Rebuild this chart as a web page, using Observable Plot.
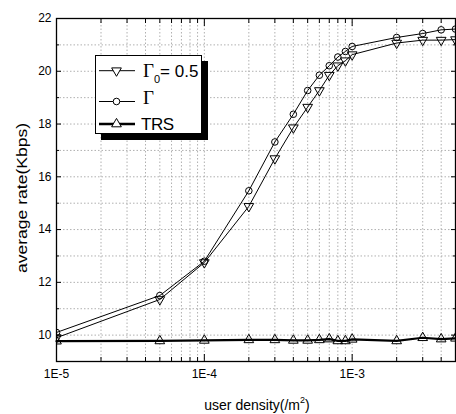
<!DOCTYPE html>
<html><head><meta charset="utf-8">
<script src="https://cdn.jsdelivr.net/npm/d3@7"></script>
<script src="https://cdn.jsdelivr.net/npm/@observablehq/plot@0.6"></script>
<style>
body{margin:0;background:#fff;}
#wrap{position:relative;width:456px;height:414px;font-family:"Liberation Sans",Arial,sans-serif;}
#wrap svg{position:absolute;left:0;top:0;}
</style></head><body><div id="wrap"></div>
<script>
// ---- data ----
const density = [1e-5,5e-5,1e-4,2e-4,3e-4,4e-4,5e-4,6e-4,7e-4,8e-4,9e-4,1e-3,2e-3,3e-3,4e-3,5e-3];
const gamma05 = [9.9,11.35,12.75,14.88,16.69,17.86,18.64,19.27,19.85,20.21,20.40,20.63,21.07,21.18,21.18,21.2];
const gamma   = [10.1,11.5,12.8,15.47,17.32,18.37,19.27,19.85,20.21,20.54,20.75,20.94,21.28,21.43,21.57,21.6];
const trs     = [9.77,9.78,9.8,9.82,9.82,9.8,9.8,9.82,9.85,9.78,9.78,9.84,9.78,9.9,9.85,9.88];
const seriesNames = ["Γ0= 0.5","Γ","TRS"];
const xMajorTicks = [1e-5,1e-4,1e-3];
const xTickLabels = ["1E-5","1E-4","1E-3"];
const xMinorTicks = [2e-5,3e-5,4e-5,5e-5,6e-5,7e-5,8e-5,9e-5,2e-4,3e-4,4e-4,5e-4,6e-4,7e-4,8e-4,9e-4,2e-3,3e-3,4e-3];
const yMajorTicks = [10,12,14,16,18,20,22];
const yMinorTicks = [11,13,15,17,19,21];
const xLabel = "user density(/m";
const yLabel = "average rate(Kbps)";

const rows = [];
density.forEach((d,i)=>{
  rows.push({x:d,y:gamma05[i],s:seriesNames[0]});
  rows.push({x:d,y:gamma[i],s:seriesNames[1]});
  rows.push({x:d,y:trs[i],s:seriesNames[2]});
});
const bySeries = n => rows.filter(r=>r.s===n);

const triDown = {draw(ctx,size){const r=Math.sqrt(size/(3*Math.sqrt(3)/4)); const h=r*0.5; ctx.moveTo(0,r); ctx.lineTo(r*0.866,-h); ctx.lineTo(-r*0.866,-h); ctx.closePath();}};
const triUp = {draw(ctx,size){const r=Math.sqrt(size/(3*Math.sqrt(3)/4)); const h=r*0.5; ctx.moveTo(0,-r); ctx.lineTo(r*0.866,h); ctx.lineTo(-r*0.866,h); ctx.closePath();}};

const fmt = d => xTickLabels[xMajorTicks.indexOf(d)] ?? "";
const gridX = xMajorTicks.concat(xMinorTicks).filter(d=>d>1e-5);
const gridY = yMajorTicks.concat(yMinorTicks).filter(d=>d<22);

const chart = Plot.plot({
  width:456, height:414,
  marginLeft:56, marginRight:1, marginTop:18, marginBottom:53,
  style:{fontFamily:'"Liberation Sans",Arial,sans-serif', fontSize:"12px", background:"#fff", color:"#000"},
  x:{type:"log", domain:[1e-5,5e-3]},
  y:{domain:[9,22]},
  marks:[
    Plot.ruleX(gridX,{stroke:"#b0b0b0", strokeDasharray:"1.5,2", strokeWidth:1}),
    Plot.ruleY(gridY,{stroke:"#b0b0b0", strokeDasharray:"1.5,2", strokeWidth:1}),
    Plot.axisX(xMajorTicks,{anchor:"bottom", tickSize:-7, tickPadding:15, tickFormat:fmt, label:null, fontSize:12}),
    Plot.axisX(xMinorTicks,{anchor:"bottom", tickSize:-4, tickFormat:()=>"", label:null}),
    Plot.axisX(xMajorTicks,{anchor:"top", tickSize:-7, tickFormat:()=>"", label:null}),
    Plot.axisX(xMinorTicks,{anchor:"top", tickSize:-4, tickFormat:()=>"", label:null}),
    Plot.axisY(yMajorTicks,{anchor:"left", tickSize:-5, tickPadding:10, label:null, fontSize:12}),
    Plot.axisY(yMinorTicks,{anchor:"left", tickSize:-3, tickFormat:()=>"", label:null}),
    Plot.axisY(yMajorTicks,{anchor:"right", tickSize:-5, tickFormat:()=>"", label:null}),
    Plot.axisY(yMinorTicks,{anchor:"right", tickSize:-3, tickFormat:()=>"", label:null}),
    Plot.line(bySeries(seriesNames[0]),{x:"x",y:"y",stroke:"#000",strokeWidth:1}),
    Plot.line(bySeries(seriesNames[1]),{x:"x",y:"y",stroke:"#000",strokeWidth:1}),
    Plot.line(bySeries(seriesNames[2]),{x:"x",y:"y",stroke:"#000",strokeWidth:2.2}),
    Plot.dot(bySeries(seriesNames[0]),{x:"x",y:"y",symbol:triDown,r:3.6,fill:"none",stroke:"#000",strokeWidth:1,clip:true}),
    Plot.dot(bySeries(seriesNames[1]),{x:"x",y:"y",symbol:"circle",r:3.3,fill:"none",stroke:"#000",strokeWidth:1,clip:true}),
    Plot.dot(bySeries(seriesNames[2]),{x:"x",y:"y",symbol:triUp,r:3.6,fill:"none",stroke:"#000",strokeWidth:1,clip:true}),
    Plot.frame({stroke:"#000", strokeWidth:1.3})
  ]
});
document.getElementById("wrap").appendChild(chart);

const svg = d3.select(chart);
// axis titles
const xt = svg.append("text").attr("x",257).attr("y",410).attr("text-anchor","middle")
  .attr("font-size",14).attr("fill","#000");
xt.append("tspan").text(xLabel);
xt.append("tspan").attr("font-size",9).attr("dy",-7).text("2");
xt.append("tspan").attr("dy",7).text(")");
svg.append("text").attr("transform","translate(27,198) rotate(-90)").attr("text-anchor","middle")
  .attr("font-size",15).attr("textLength",150).attr("lengthAdjust","spacingAndGlyphs").attr("fill","#000").text(yLabel);

// legend
const lg = svg.append("g").attr("text-anchor","start");
lg.append("rect").attr("x",101).attr("y",61).attr("width",107).attr("height",79).attr("fill","#000");
lg.append("rect").attr("x",95.5).attr("y",55.5).attr("width",106).attr("height",78).attr("fill","#fff").attr("stroke","#000").attr("stroke-width",1);
const ly = [70.7,101.5,124];
const lw = [1,1,2.4];
const syms = [d3.symbol(triDown,3.6*3.6*Math.PI)(), d3.symbol(d3.symbolCircle,3.3*3.3*Math.PI)(), d3.symbol(triUp,3.6*3.6*Math.PI)()];
ly.forEach((y,i)=>{
  lg.append("line").attr("x1",99).attr("x2",135).attr("y1",y).attr("y2",y).attr("stroke","#000").attr("stroke-width",lw[i]);
  lg.append("path").attr("d",syms[i]).attr("transform",`translate(116.5,${y})`).attr("fill","#fff").attr("stroke","#000");
});
const t1 = lg.append("text").attr("x",143).attr("y",77).attr("fill","#000");
t1.append("tspan").attr("font-family",'"Liberation Serif",serif').attr("font-size",19).text("Γ");
t1.append("tspan").attr("font-size",11).attr("dy",6).text("0");
t1.append("tspan").attr("font-size",17).attr("dy",-6).text("= 0.5");
lg.append("text").attr("x",143).attr("y",104).attr("fill","#000").attr("font-family",'"Liberation Serif",serif').attr("font-size",19).text("Γ");
lg.append("text").attr("x",141).attr("y",130).attr("fill","#000").attr("font-size",17).attr("letter-spacing",-0.5).text("TRS");
</script></body></html>
